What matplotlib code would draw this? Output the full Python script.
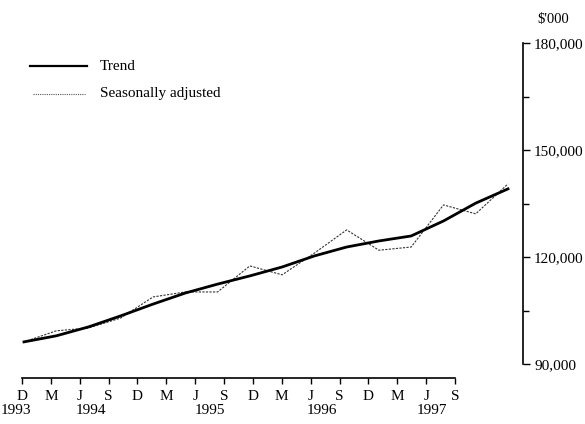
import matplotlib.pyplot as plt
import matplotlib.ticker as mticker

plt.rcParams['font.family'] = ['Liberation Serif', 'DejaVu Serif']

# Quarterly values, Dec 1993 - Sep 1997 ($'000)
trend = [96200, 97900, 100400, 103500, 106800, 109900, 112400, 114700,
         117200, 120300, 122800, 124500, 125900, 130100, 135100, 139100]
seas_adj = [96200, 99300, 100100, 102900, 108800, 110200, 110200, 117500,
            115000, 121100, 127600, 121900, 122800, 134600, 132100, 140500]

months = ["D", "M", "J", "S", "D", "M", "J", "S",
          "D", "M", "J", "S", "D", "M", "J", "S"]
years = ["1993", "1994", "1995", "1996", "1997"]
year_pos = [-0.22, 2.4, 6.5, 10.4, 14.2]

W, H = 585, 424
fig = plt.figure(figsize=(W / 100, H / 100), dpi=100)

# main plot area (pixel box -> figure fraction)
ax = fig.add_axes([20 / W, 1 - 364 / H, (523 - 20) / W, (364 - 43) / H])
x = list(range(len(trend)))
ax.plot(x, seas_adj, color="#333333", lw=0.8, ls=(0, (2, 1.2)))
ax.plot(x, trend, color="black", lw=2.0)
ax.set_xlim(-4 / 32.27, 15 + 15 / 32.27)
ax.set_ylim(90000, 180000)
for s in ["left", "top", "bottom"]:
    ax.spines[s].set_visible(False)
ax.spines["right"].set_linewidth(1.2)
ax.set_xticks([])
ax.yaxis.tick_right()
ax.set_yticks([90000, 120000, 150000, 180000])
ax.yaxis.set_minor_locator(mticker.MultipleLocator(15000))
ax.yaxis.set_major_formatter(mticker.FuncFormatter(lambda v, p: f"{int(v):,}"))
ax.tick_params(axis="y", which="major", direction="out", length=5, width=1,
               labelsize=11, pad=3)
ax.tick_params(axis="y", which="minor", direction="out", length=4, width=1)
fig.text(553 / W, 1 - 20 / H, "$'000", ha="center", va="center", fontsize=10.5)

# legend drawn by hand
fig.add_artist(plt.Line2D([30 / W, 87 / W], [1 - 66 / H, 1 - 66 / H],
                          color="black", lw=1.6))
fig.text(100 / W, 1 - 66 / H, "Trend", va="center", fontsize=11)
fig.add_artist(plt.Line2D([33 / W, 85 / W], [1 - 94 / H, 1 - 94 / H],
                          color="#555555", lw=0.8, ls=(0, (1, 1))))
fig.text(100 / W, 1 - 94 / H, "Seasonally adjusted", va="center", fontsize=11)

# time axis below the plot
ax2 = fig.add_axes([22 / W, 1 - 378 / H, (455 - 22) / W, 0.01])
ax2.set_xlim(0, 15)
ax2.set_ylim(0, 1)
for s in ["left", "top", "right"]:
    ax2.spines[s].set_visible(False)
ax2.spines["bottom"].set_linewidth(1.2)
ax2.set_yticks([])
ax2.set_xticks(range(len(months)))
ax2.set_xticklabels(months)
ax2.tick_params(axis="x", direction="out", length=4, width=1,
                labelsize=11, pad=5)
for yr, pos in zip(years, year_pos):
    ax2.annotate(yr, xy=(pos, 0), xycoords=("data", "axes fraction"),
                 xytext=(0, -26), textcoords="offset pixels",
                 ha="center", va="top", fontsize=11, annotation_clip=False)

fig.savefig("out.png", dpi=100)
